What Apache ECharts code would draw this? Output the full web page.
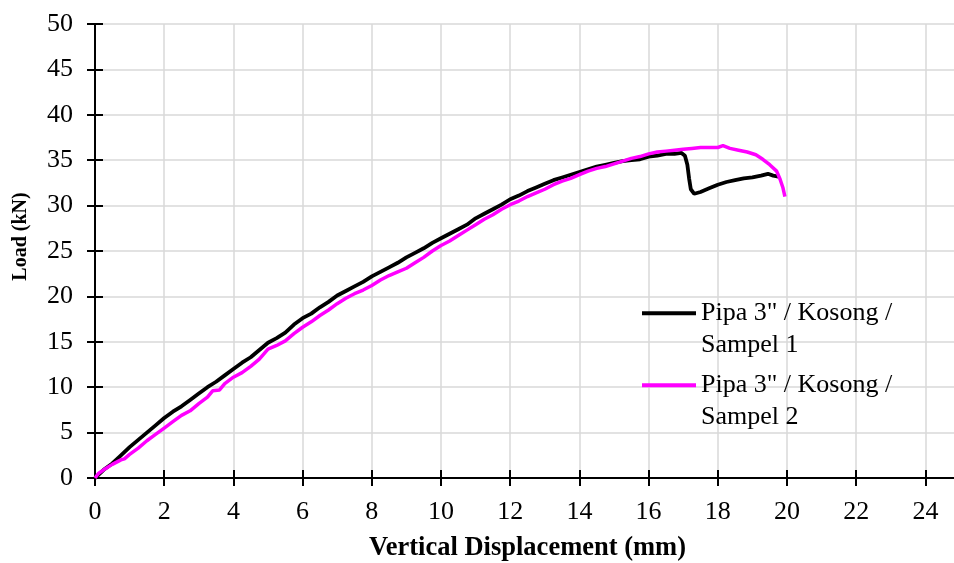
<!DOCTYPE html>
<html>
<head>
<meta charset="utf-8">
<script src="https://cdn.jsdelivr.net/npm/echarts@6/dist/echarts.min.js"></script>
<style>
html,body{margin:0;padding:0;background:#fff;}
#chart{width:954px;height:563px;}
</style>
</head>
<body>
<div id="chart"></div>
<script>
// Sample 1 (black)
const disp1 = [0,0.25,0.5,0.75,1.0,1.25,1.5,1.75,2.0,2.25,2.5,2.75,3.0,3.25,3.5,3.75,4.0,4.25,4.5,4.75,5.0,5.25,5.5,5.75,6.0,6.25,6.5,6.75,7.0,7.25,7.5,7.75,8.0,8.25,8.5,8.75,9.0,9.25,9.5,9.75,10.0,10.25,10.5,10.75,11.0,11.25,11.5,11.75,12.0,12.25,12.5,12.75,13.0,13.25,13.5,13.75,14.0,14.25,14.5,14.75,15.0,15.25,15.5,15.75,16.0,16.25,16.5,16.75,16.95,17.05,17.12,17.17,17.22,17.32,17.5,17.75,18.0,18.25,18.5,18.75,19.0,19.25,19.45,19.6,19.75];
const load1 = [0,0.9,1.6,2.5,3.4,4.2,5.0,5.8,6.6,7.3,7.9,8.6,9.3,10.0,10.6,11.3,12.0,12.7,13.3,14.1,14.9,15.4,16.0,16.9,17.6,18.1,18.8,19.4,20.1,20.6,21.1,21.6,22.2,22.7,23.2,23.7,24.3,24.8,25.3,25.9,26.4,26.9,27.4,27.9,28.6,29.1,29.6,30.1,30.7,31.1,31.6,32.0,32.4,32.8,33.1,33.4,33.7,34.0,34.3,34.5,34.7,34.9,35.0,35.1,35.4,35.5,35.7,35.7,35.8,35.5,34.5,33.0,31.8,31.3,31.5,31.9,32.3,32.6,32.8,33.0,33.1,33.3,33.5,33.3,33.2];
// Sample 2 (magenta)
const disp2 = [0,0.1,0.25,0.5,0.75,0.85,1.0,1.25,1.5,1.75,2.0,2.25,2.5,2.75,3.0,3.25,3.4,3.6,3.75,4.0,4.25,4.5,4.75,5.0,5.25,5.5,5.75,6.0,6.25,6.5,6.75,7.0,7.25,7.5,7.75,8.0,8.25,8.5,8.75,9.0,9.25,9.5,9.75,10.0,10.25,10.5,10.75,11.0,11.25,11.5,11.75,12.0,12.25,12.5,12.75,13.0,13.25,13.5,13.75,14.0,14.25,14.5,14.75,15.0,15.25,15.5,15.75,16.0,16.25,16.5,16.75,17.0,17.25,17.5,17.75,18.0,18.15,18.35,18.6,18.85,19.1,19.3,19.5,19.7,19.8,19.88,19.94];
const load2 = [0,0.5,0.9,1.5,2.0,2.1,2.6,3.3,4.1,4.8,5.5,6.2,6.9,7.4,8.2,8.9,9.6,9.7,10.4,11.1,11.6,12.3,13.1,14.2,14.6,15.1,15.9,16.6,17.2,17.9,18.5,19.2,19.8,20.3,20.7,21.2,21.8,22.3,22.7,23.1,23.7,24.3,25.0,25.6,26.1,26.7,27.3,27.9,28.5,29.0,29.6,30.1,30.5,31.0,31.4,31.8,32.3,32.7,33.0,33.4,33.8,34.1,34.3,34.6,34.9,35.2,35.4,35.7,35.9,36.0,36.1,36.2,36.3,36.4,36.4,36.4,36.6,36.3,36.1,35.9,35.6,35.1,34.5,33.8,32.9,32.0,31.0];

const seriesNames = ['Pipa 3" / Kosong / Sampel 1', 'Pipa 3" / Kosong / Sampel 2'];
const seriesColors = ['#000000', '#FF00FF'];
const xTitle = 'Vertical Displacement (mm)';
const yTitle = 'Load (kN)';

const FONT = '"Liberation Serif","Times New Roman",serif';
const pairs = (xs, ys) => xs.map((x, i) => [x, ys[i]]);

const gridBox = {left: 95, right: -6, top: 24, bottom: 85, containLabel: false, outerBoundsMode: 'none'};

const chart = echarts.init(document.getElementById('chart'));
const legendCommon = {
  orient: 'vertical',
  left: 642,
  padding: 0,
  itemWidth: 54,
  itemHeight: 4,
  formatter: name => '\n' + name.replace(' / Sampel', ' /\nSampel'),
  textStyle: {fontFamily: FONT, fontSize: 26, color: '#000', lineHeight: 31.5}
};
const lineIcon = 'path://M0,0L54,0L54,4L0,4Z';
chart.setOption({
  animation: false,
  backgroundColor: '#ffffff',
  grid: [Object.assign({}, gridBox), Object.assign({}, gridBox)],
  legend: [
    Object.assign({}, legendCommon, {top: 266, data: [{name: seriesNames[0], icon: lineIcon, itemStyle: {color: seriesColors[0]}}]}),
    Object.assign({}, legendCommon, {top: 338, data: [{name: seriesNames[1], icon: lineIcon, itemStyle: {color: seriesColors[1]}}]})
  ],
  xAxis: [
    {
      type: 'value', gridIndex: 0, min: 0, max: 25, interval: 2,
      name: xTitle, nameLocation: 'middle', nameGap: 57,
      nameTextStyle: {fontFamily: FONT, fontSize: 26.5, fontWeight: 'bold', color: '#000'},
      axisLine: {show: true, onZero: false, lineStyle: {color: '#000', width: 2}},
      axisTick: {show: true, length: 8, lineStyle: {color: '#000', width: 2}},
      axisLabel: {fontFamily: FONT, fontSize: 26, color: '#000', margin: 21, showMaxLabel: false,
        formatter: v => (v % 2 === 0 ? String(v) : '')},
      splitLine: {show: true, lineStyle: {color: '#d9d9d9', width: 1.5}}
    },
    {
      type: 'value', gridIndex: 1, min: 0, max: 25, interval: 2, position: 'bottom',
      axisLine: {show: false},
      axisTick: {show: true, inside: true, length: 8, lineStyle: {color: '#000', width: 2}},
      axisLabel: {show: false},
      splitLine: {show: false}
    }
  ],
  yAxis: [
    {
      type: 'value', gridIndex: 0, min: 0, max: 50, interval: 5,
      name: yTitle, nameLocation: 'middle', nameGap: 64,
      nameTextStyle: {fontFamily: FONT, fontSize: 20, fontWeight: 'bold', color: '#000', padding: [0, 0, 0, 29]},
      axisLine: {show: true, onZero: false, lineStyle: {color: '#000', width: 2}},
      axisTick: {show: true, length: 8, lineStyle: {color: '#000', width: 2}},
      axisLabel: {fontFamily: FONT, fontSize: 26, color: '#000', margin: 22},
      splitLine: {show: true, lineStyle: {color: '#d9d9d9', width: 1.5}}
    },
    {
      type: 'value', gridIndex: 1, min: 0, max: 50, interval: 5, position: 'left',
      axisLine: {show: false},
      axisTick: {show: true, inside: true, length: 8, lineStyle: {color: '#000', width: 2}},
      axisLabel: {show: false},
      splitLine: {show: false}
    }
  ],
  series: [
    {
      name: seriesNames[0], type: 'line', xAxisIndex: 0, yAxisIndex: 0,
      data: pairs(disp1, load1), showSymbol: false, symbol: 'none',
      lineStyle: {color: seriesColors[0], width: 3.8}, itemStyle: {color: seriesColors[0]}, z: 3
    },
    {
      name: seriesNames[1], type: 'line', xAxisIndex: 0, yAxisIndex: 0,
      data: pairs(disp2, load2), showSymbol: false, symbol: 'none',
      lineStyle: {color: seriesColors[1], width: 3.5}, itemStyle: {color: seriesColors[1]}, z: 4
    }
  ]
});
</script>
</body>
</html>
